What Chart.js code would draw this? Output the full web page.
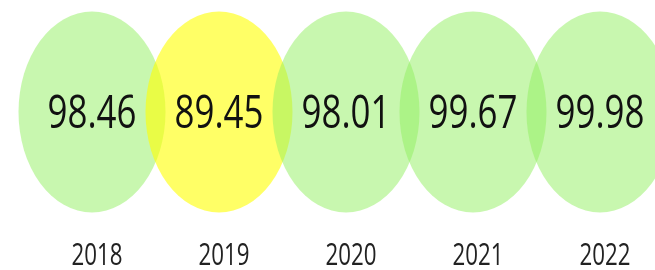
<!DOCTYPE html>
<html>
<head>
<meta charset="utf-8">
<script src="https://cdn.jsdelivr.net/npm/chart.js@4/dist/chart.umd.min.js"></script>
<style>
  html, body { margin: 0; padding: 0; background: #ffffff; }
  #wrap { width: 655px; height: 270px; position: relative; }
</style>
</head>
<body>
<div id="wrap"><canvas id="c" width="655" height="270"></canvas></div>
<script>
// ---- data ----
const years = ['2018', '2019', '2020', '2021', '2022'];
const values = [98.46, 89.45, 98.01, 99.67, 99.98];
const bubbleColors = [
  'rgba(146,240,96,0.5)',
  'rgba(255,255,0,0.6)',
  'rgba(146,240,96,0.5)',
  'rgba(146,240,96,0.5)',
  'rgba(146,240,96,0.5)'
];

const FONT = '"Open Sans", "Noto Sans", sans-serif';

// ellipse marker images
function ellipseImage(color) {
  const w = 148, h = 202;
  const cv = document.createElement('canvas');
  cv.width = w; cv.height = h;
  const g = cv.getContext('2d');
  g.fillStyle = color;
  g.beginPath();
  g.ellipse(w / 2, h / 2, w / 2 - 0.5, h / 2 - 0.5, 0, 0, Math.PI * 2);
  g.fill();
  return cv;
}
const markers = bubbleColors.map(ellipseImage);

// draws condensed text (narrow, tall look) centred at x,y
function narrowText(ctx, text, x, y, size, targetWidth) {
  ctx.font = size + 'px ' + FONT;
  const w = ctx.measureText(text).width;
  const sx = targetWidth / w;
  ctx.save();
  ctx.translate(x, y);
  ctx.scale(sx, 1);
  ctx.fillText(text, 0, 0);
  ctx.restore();
}

const textLayer = {
  id: 'textLayer',
  afterDatasetsDraw(chart) {
    const ctx = chart.ctx;
    const meta = chart.getDatasetMeta(0);
    ctx.save();
    ctx.textAlign = 'center';
    ctx.textBaseline = 'alphabetic';
    meta.data.forEach((el, i) => {
      ctx.fillStyle = '#111111';
      narrowText(ctx, values[i].toFixed(2), el.x, el.y + 16, 46, 89);
      ctx.fillStyle = '#222222';
      narrowText(ctx, years[i], el.x + 5, 265, 31, 51);
    });
    ctx.restore();
  }
};

new Chart(document.getElementById('c'), {
  type: 'line',
  data: {
    labels: years,
    datasets: [{
      data: years.map(() => 1),
      showLine: false,
      pointStyle: markers,
      pointRadius: 1,
      pointHoverRadius: 1,
      clip: false
    }]
  },
  options: {
    responsive: false,
    animation: false,
    events: [],
    layout: { autoPadding: false, padding: { left: 92, right: 55, top: 12, bottom: 58 } },
    plugins: { legend: { display: false }, tooltip: { enabled: false } },
    scales: {
      x: { type: 'category', offset: false, display: false },
      y: { display: false, min: 0, max: 2 }
    }
  },
  plugins: [textLayer]
});
</script>
</body>
</html>
